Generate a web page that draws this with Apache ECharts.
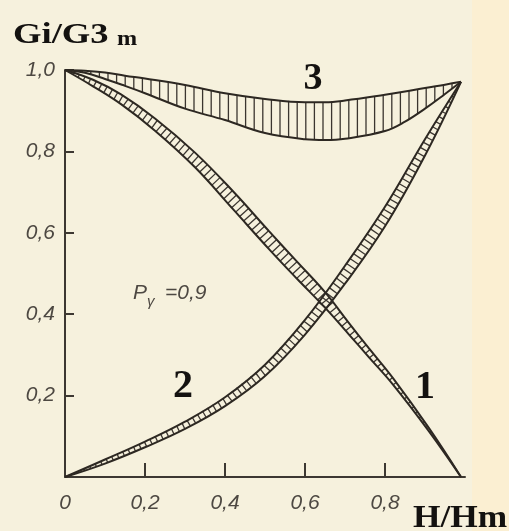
<!DOCTYPE html>
<html>
<head>
<meta charset="utf-8">
<script src="https://cdn.jsdelivr.net/npm/echarts@6/dist/echarts.min.js"></script>
<style>
  html, body { margin: 0; padding: 0; background: #f6f1dd; }
  #chart { width: 509px; height: 531px; }
</style>
</head>
<body>
<div id="chart"></div>
<script>
// Axis ticks and their labels (decimal comma)
const xTickValues = [0, 0.2, 0.4, 0.6, 0.8];
const xTickLabels = ['0', '0,2', '0,4', '0,6', '0,8'];
const yTickValues = [0.2, 0.4, 0.6, 0.8, 1.0];
const yTickLabels = ['0,2', '0,4', '0,6', '0,8', '1,0'];

// Curve 3: band between an upper and a lower boundary
const x3     = [0, 0.05, 0.10, 0.15, 0.20, 0.30, 0.40, 0.50, 0.60, 0.65, 0.70, 0.80, 0.85, 0.90, 0.95, 0.99];
const upper3 = [1.0, 0.998, 0.994, 0.986, 0.979, 0.963, 0.943, 0.929, 0.921, 0.921, 0.925, 0.939, 0.947, 0.956, 0.964, 0.971];
const lower3 = [1.0, 0.993, 0.978, 0.961, 0.943, 0.905, 0.877, 0.845, 0.830, 0.828, 0.831, 0.850, 0.873, 0.905, 0.941, 0.971];

// Curve 1: falling band
const x1     = [0, 0.07, 0.14, 0.225, 0.325, 0.42, 0.51, 0.58, 0.65, 0.71, 0.76, 0.82, 0.91, 0.99];
const upper1 = [1.0, 0.976, 0.940, 0.881, 0.797, 0.702, 0.604, 0.529, 0.454, 0.378, 0.316, 0.243, 0.120, 0.0];
const lower1 = [1.0, 0.960, 0.916, 0.851, 0.761, 0.658, 0.560, 0.487, 0.416, 0.350, 0.294, 0.227, 0.112, 0.0];

// Curve 2: rising band
const x2     = [0, 0.10, 0.20, 0.30, 0.40, 0.50, 0.60, 0.70, 0.80, 0.90, 0.99];
const upper2 = [0, 0.043, 0.087, 0.136, 0.196, 0.276, 0.386, 0.519, 0.664, 0.830, 0.971];
const lower2 = [0, 0.033, 0.073, 0.118, 0.174, 0.248, 0.350, 0.475, 0.616, 0.790, 0.971];

const INK = '#2d2822';
const LABEL_INK = '#4d4842';

function pairs(xs, ys) { return xs.map((x, i) => [x, ys[i]]); }

function edge(xs, ys) {
  return {
    type: 'line', data: pairs(xs, ys), symbol: 'none', smooth: 0.4,
    lineStyle: { color: INK, width: 2 }, z: 4, silent: true
  };
}

function interpY(poly, X) {
  for (let i = 0; i < poly.length - 1; i++) {
    const a = poly[i], b = poly[i + 1];
    if (X >= a[0] && X <= b[0]) {
      const f = (X - a[0]) / ((b[0] - a[0]) || 1);
      return a[1] + f * (b[1] - a[1]);
    }
  }
  return poly[poly.length - 1][1];
}

function seg(x1p, y1p, x2p, y2p) {
  return {
    type: 'line',
    shape: { x1: x1p, y1: y1p, x2: x2p, y2: y2p },
    style: { stroke: '#3a352f', lineWidth: 1.3 }
  };
}

// Hatching of a band: vertical strokes, or rungs across the band
function hatch(xs, up, lo, step, vertical) {
  return {
    type: 'custom', coordinateSystem: 'cartesian2d', silent: true, clip: false, z: 3,
    data: [[xs[0], up[0]]],
    renderItem: function (params, api) {
      const U = xs.map((x, i) => api.coord([x, up[i]]));
      const L = xs.map((x, i) => api.coord([x, lo[i]]));
      const children = [];
      if (vertical) {
        const a = U[0][0], b = U[U.length - 1][0];
        for (let X = a + step; X < b - 1; X += step) {
          const yu = interpY(U, X), yl = interpY(L, X);
          if (yl - yu > 1.5) children.push(seg(X, yu, X, yl));
        }
      } else {
        const C = U.map((p, i) => [p[0], (p[1] + L[i][1]) / 2, L[i][1] - p[1]]);
        let next = step / 2;
        for (let i = 0; i < C.length - 1; i++) {
          const p = C[i], q = C[i + 1];
          const dx = q[0] - p[0], dy = q[1] - p[1];
          const len = Math.hypot(dx, dy);
          while (next <= len) {
            const f = next / len;
            const cx = p[0] + f * dx, cy = p[1] + f * dy;
            const d = p[2] + f * (q[2] - p[2]);
            const h = d * Math.abs(dx) / len / 2;
            const nx = -dy / len, ny = dx / len;
            if (h > 0.8) children.push(seg(cx - nx * h, cy - ny * h, cx + nx * h, cy + ny * h));
            next += step;
          }
          next -= len;
        }
      }
      return { type: 'group', children: children };
    }
  };
}

const chart = echarts.init(document.getElementById('chart'), null, { renderer: 'canvas' });

const tickFont = { fontFamily: 'Liberation Sans', fontStyle: 'italic', fontSize: 21, color: LABEL_INK };

function serifText(text, x, y, size, sx, extra) {
  return Object.assign({
    type: 'text', x: x, y: y, scaleX: sx, originX: 0, originY: 0,
    style: { text: text, font: 'bold ' + size + 'px "Liberation Serif"', fill: '#141210', textVerticalAlign: 'middle' }
  }, extra || {});
}

chart.setOption({
  backgroundColor: '#f6f1dd',
  animation: false,
  grid: { left: 65, right: 44, top: 70, bottom: 54 },
  xAxis: {
    type: 'value', min: 0, max: 1, interval: 0.2,
    axisLine: { show: true, lineStyle: { color: '#3d3832', width: 2 } },
    axisTick: { show: true, inside: true, length: 14, customValues: xTickValues.slice(1),
      lineStyle: { color: '#3d3832', width: 2 } },
    axisLabel: Object.assign({ margin: 16, customValues: xTickValues,
      formatter: v => { const i = xTickValues.findIndex(t => Math.abs(t - v) < 1e-9); return i < 0 ? '' : xTickLabels[i]; } }, tickFont),
    splitLine: { show: false }
  },
  yAxis: {
    type: 'value', min: 0, max: 1, interval: 0.2,
    axisLine: { show: true, lineStyle: { color: '#3d3832', width: 2 } },
    axisTick: { show: true, inside: true, length: 9, customValues: yTickValues,
      lineStyle: { color: '#3d3832', width: 2 } },
    axisLabel: Object.assign({ margin: 10, customValues: yTickValues,
      formatter: v => { const i = yTickValues.findIndex(t => Math.abs(t - v) < 1e-9); return i < 0 ? '' : yTickLabels[i]; } }, tickFont),
    splitLine: { show: false }
  },
  graphic: [
    { type: 'rect', left: 472, top: 0, shape: { width: 37, height: 531 }, style: { fill: '#fbefd2' }, z: -10 },
    serifText('Gi/G3', 13, 35, 30, 1.22),
    serifText('m', 117, 39, 22, 1.1),
    serifText('H/Hm', 413, 519, 31, 1.14),
    { type: 'text', x: 313, y: 79,
      style: { text: '3', font: 'bold 38px "Liberation Serif"', fill: '#141210', textAlign: 'center', textVerticalAlign: 'middle' } },
    { type: 'text', x: 183, y: 387,
      style: { text: '2', font: 'bold 40px "Liberation Serif"', fill: '#141210', textAlign: 'center', textVerticalAlign: 'middle' } },
    { type: 'text', x: 425, y: 388,
      style: { text: '1', font: 'bold 40px "Liberation Serif"', fill: '#141210', textAlign: 'center', textVerticalAlign: 'middle' } },
    { type: 'text', x: 133, y: 293,
      style: { text: 'P', font: 'italic 21px "Liberation Sans"', fill: LABEL_INK, textVerticalAlign: 'middle' } },
    { type: 'text', x: 147, y: 302,
      style: { text: 'γ', font: 'italic 15px "Liberation Sans"', fill: LABEL_INK, textVerticalAlign: 'middle' } },
    { type: 'text', x: 165, y: 293,
      style: { text: '=0,9', font: 'italic 21px "Liberation Sans"', fill: LABEL_INK, textVerticalAlign: 'middle' } }
  ],
  series: [
    hatch(x3, upper3, lower3, 8.6, true),
    hatch(x1, upper1, lower1, 6, false),
    hatch(x2, upper2, lower2, 6, false),
    edge(x3, upper3), edge(x3, lower3),
    edge(x1, upper1), edge(x1, lower1),
    edge(x2, upper2), edge(x2, lower2)
  ]
});
</script>
</body>
</html>
